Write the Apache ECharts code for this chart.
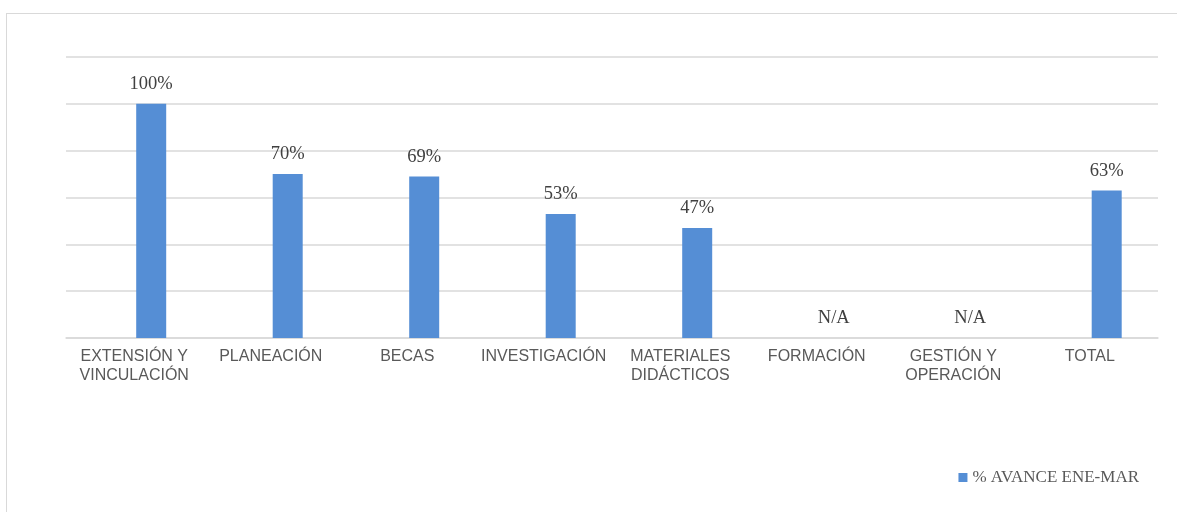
<!DOCTYPE html>
<html>
<head>
<meta charset="utf-8">
<script src="https://cdn.jsdelivr.net/npm/echarts@6/dist/echarts.min.js"></script>
<style>
html,body{margin:0;padding:0;background:#fff;}
#frame{position:absolute;left:6px;top:13px;width:1200px;height:600px;border:1.5px solid #d9d9d9;box-sizing:border-box;}
#chart{position:absolute;left:0;top:0;width:1177px;height:512px;}
</style>
</head>
<body>
<div id="frame"></div>
<div id="chart"></div>
<script>
const categories = ['EXTENSIÓN Y\nVINCULACIÓN','PLANEACIÓN','BECAS','INVESTIGACIÓN','MATERIALES\nDIDÁCTICOS','FORMACIÓN','GESTIÓN Y\nOPERACIÓN','TOTAL'];
const values = [100, 70, 69, 53, 47, 0, 0, 63];
const valueLabels = ['100%','70%','69%','53%','47%','N/A','N/A','63%'];
const seriesName = '% AVANCE ENE-MAR';
const yTicks = [0, 20, 40, 60, 80, 100, 120];

const chart = echarts.init(document.getElementById('chart'), null, {renderer:'canvas'});
chart.setOption({
  animation:false,
  backgroundColor:'transparent',
  grid:{left:66,right:19,top:57,bottom:174,containLabel:false},
  legend:{
    data:[seriesName],
    right:33,bottom:21,
    icon:'rect',itemWidth:9,itemHeight:9,itemGap:5,
    textStyle:{fontFamily:'Liberation Serif, DejaVu Serif, serif',fontSize:17,color:'#595959'}
  },
  xAxis:{
    type:'category',data:categories,
    axisLine:{lineStyle:{color:'#d9d9d9',width:1.5}},
    axisTick:{show:false},
    axisLabel:{interval:0,color:'#595959',fontFamily:'Liberation Sans, Arial, sans-serif',fontSize:16,lineHeight:19,margin:9}
  },
  yAxis:{
    type:'value',min:yTicks[0],max:yTicks[yTicks.length-1],interval:20,
    axisLabel:{show:false},axisLine:{show:false},axisTick:{show:false},
    splitLine:{lineStyle:{color:'#d9d9d9',width:1.5}}
  },
  series:[
    {name:'_blank',type:'bar',data:values.map(()=>null),barWidth:30,barGap:'13%',silent:true},
    {
      name:seriesName,type:'bar',data:values,barWidth:30,barGap:'13%',
      itemStyle:{color:'#558ed5'},
      label:{
        show:true,position:'top',distance:10,
        fontFamily:'Liberation Serif, DejaVu Serif, serif',fontSize:18.5,color:'#404040',
        formatter:p=>valueLabels[p.dataIndex]
      }
    }
  ]
});
</script>
</body>
</html>
